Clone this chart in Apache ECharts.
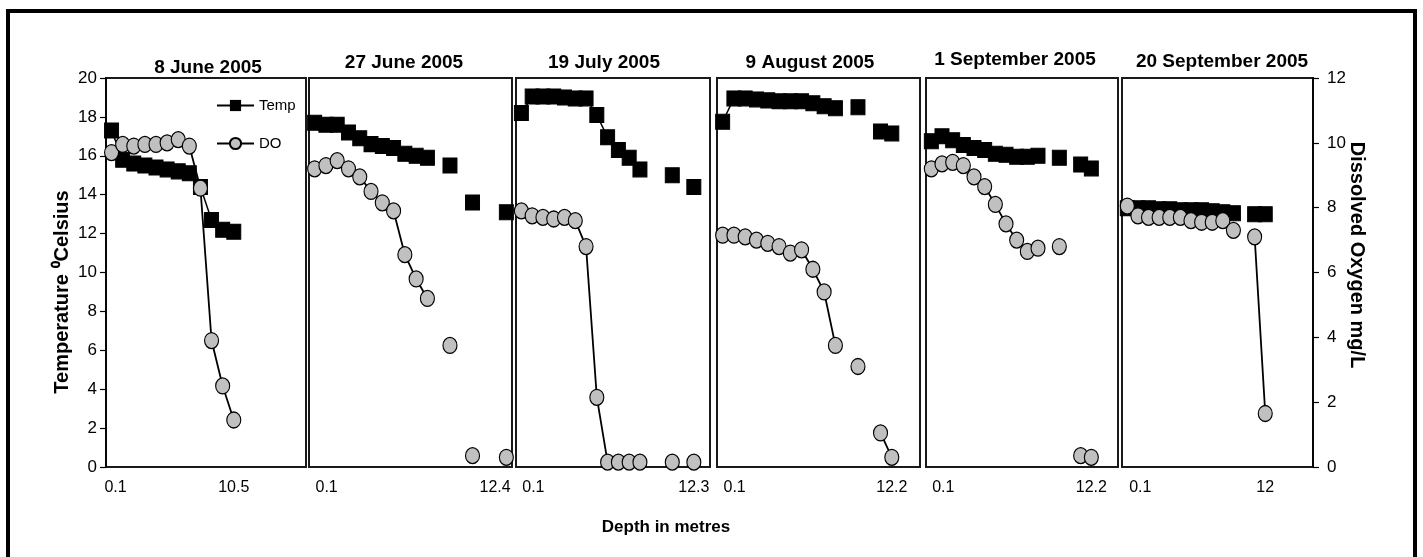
<!DOCTYPE html>
<html>
<head>
<meta charset="utf-8">
<script src="https://cdn.jsdelivr.net/npm/echarts@6/dist/echarts.min.js"></script>
<style>
  html, body { margin: 0; padding: 0; background: #fff; }
  #chart { width: 1423px; height: 557px; }
</style>
</head>
<body>
<div id="chart"></div>
<script>
// sampling dates, one panel each
const panelTitles = ['8 June 2005', '27 June 2005', '19 July 2005', '9 August 2005', '1 September 2005', '20 September 2005']

// depth tick labels: first and last label of each panel
const firstDepth = '0.1'
const lastDepth = ['10.5', '12.4', '12.3', '12.2', '12.2', '12']
const lastDepthIndex = [11, 16, 16, 15, 15, 13]
const categoryCount = 18

// temperature (deg C), null = no reading at that step
const temp1 = [17.3, 15.8, 15.6, 15.5, 15.4, 15.3, 15.2, 15.1, 14.4, 12.7, 12.2, 12.1]
const temp2 = [17.7, 17.6, 17.6, 17.2, 16.9, 16.6, 16.5, 16.4, 16.1, 16.0, 15.9, null, 15.5, null, 13.6, null, null, 13.1]
const temp3 = [18.2, 19.05, 19.05, 19.05, 19.0, 18.95, 18.95, 18.1, 16.95, 16.3, 15.9, 15.3, null, null, 15.0, null, 14.4]
const temp4 = [17.75, 18.95, 18.95, 18.9, 18.85, 18.8, 18.8, 18.8, 18.7, 18.55, 18.45, null, 18.5, null, 17.25, 17.15]
const temp5 = [16.75, 17.0, 16.8, 16.55, 16.4, 16.3, 16.1, 16.05, 15.95, 15.95, 16.0, null, 15.9, null, 15.55, 15.35]
const temp6 = [13.3, 13.3, 13.3, 13.25, 13.25, 13.2, 13.2, 13.2, 13.15, 13.1, 13.05, null, 13.0, 13.0]

// dissolved oxygen (mg/L)
const do1 = [9.7, 9.95, 9.9, 9.95, 9.95, 10.0, 10.1, 9.9, 8.6, 3.9, 2.5, 1.45]
const do2 = [9.2, 9.3, 9.45, 9.2, 8.95, 8.5, 8.15, 7.9, 6.55, 5.8, 5.2, null, 3.75, null, 0.35, null, null, 0.3]
const do3 = [7.9, 7.75, 7.7, 7.65, 7.7, 7.6, 6.8, 2.15, 0.15, 0.15, 0.15, 0.15, null, null, 0.15, null, 0.15]
const do4 = [7.15, 7.15, 7.1, 7.0, 6.9, 6.8, 6.6, 6.7, 6.1, 5.4, 3.75, null, 3.1, null, 1.05, 0.3]
const do5 = [9.2, 9.35, 9.4, 9.3, 8.95, 8.65, 8.1, 7.5, 7.0, 6.65, 6.75, null, 6.8, null, 0.35, 0.3]
const do6 = [8.05, 7.75, 7.7, 7.7, 7.7, 7.7, 7.6, 7.55, 7.55, 7.6, 7.3, null, 7.1, 1.65]

const tempSeries = [temp1, temp2, temp3, temp4, temp5, temp6]
const doSeries = [do1, do2, do3, do4, do5, do6]

// layout of the six panels
const panelLeft = [106, 309, 516, 717, 926, 1122]
const panelWidth = [200, 203, 194, 203, 192, 191]
const panelTop = 78
const panelHeight = 389
const titlePos = [[208, 68], [404, 63], [604, 63], [810, 63], [1015, 60], [1222, 62]]
const firstLabelShift = [4, 12, 12, 12, 12, 13]

const FONT = 'Liberation Sans, Arial, sans-serif'

function depthCategories(i) {
  let arr = []
  for (let k = 0; k < categoryCount; k++) arr.push('')
  arr[0] = firstDepth
  arr[lastDepthIndex[i]] = lastDepth[i]
  return arr
}

let grid = [], xAxis = [], yAxis = [], series = [], graphic = []

for (let i = 0; i < 6; i++) {
  grid.push({
    left: panelLeft[i], top: panelTop, width: panelWidth[i], height: panelHeight,
    show: true, borderColor: '#1a1a1a', borderWidth: 2, backgroundColor: 'transparent'
  })
  xAxis.push({
    type: 'category', gridIndex: i, boundaryGap: true,
    data: depthCategories(i),
    axisLine: { show: false },
    axisTick: { show: false },
    splitLine: { show: false },
    axisLabel: {
      interval: 0, margin: 13, color: '#000', fontSize: 16, fontFamily: FONT,
      formatter: (v, idx) => idx === 0 ? '{first|' + v + '}' : v,
      rich: {
        first: { fontSize: 16, fontFamily: FONT, color: '#000', padding: [0, 0, 0, firstLabelShift[i] * 2] }
      }
    }
  })
  // temperature axis (left)
  let showTemp = i === 0
  yAxis.push({
    type: 'value', gridIndex: i, position: 'left', min: 0, max: 20, interval: 2,
    axisLine: { show: showTemp, lineStyle: { color: '#000', width: 1.5 } },
    axisTick: { show: showTemp, length: 6, lineStyle: { color: '#000', width: 1.2 } },
    axisLabel: { show: showTemp, margin: 9, color: '#000', fontSize: 17, fontFamily: FONT },
    splitLine: { show: false }
  })
  // oxygen axis (right)
  let showDo = i === 5
  yAxis.push({
    type: 'value', gridIndex: i, position: 'right', min: 0, max: 12, interval: 2,
    axisLine: { show: showDo, lineStyle: { color: '#000', width: 1.5 } },
    axisTick: { show: showDo, length: 6, lineStyle: { color: '#000', width: 1.2 } },
    axisLabel: { show: showDo, margin: 14, color: '#000', fontSize: 17, fontFamily: FONT },
    splitLine: { show: false }
  })
  series.push({
    name: 'Temp', type: 'line', xAxisIndex: i, yAxisIndex: i * 2,
    data: tempSeries[i],
    symbol: 'rect', symbolSize: [14, 15],
    itemStyle: { color: '#000', borderColor: '#000' },
    lineStyle: { color: '#000', width: 1.5 },
    connectNulls: false
  })
  series.push({
    name: 'DO', type: 'line', xAxisIndex: i, yAxisIndex: i * 2 + 1,
    data: doSeries[i],
    symbol: 'circle', symbolSize: [14, 16],
    itemStyle: { color: '#c0c0c0', borderColor: '#000', borderWidth: 1.2 },
    lineStyle: { color: '#000', width: 1.8 },
    connectNulls: false
  })
  graphic.push({
    type: 'text', x: titlePos[i][0], y: titlePos[i][1],
    style: {
      text: panelTitles[i], fontSize: 19, fontWeight: 'bold', fontFamily: FONT,
      fill: '#000', align: 'center', verticalAlign: 'middle'
    }
  })
}

// outer frame
graphic.push({
  type: 'rect', shape: { x: 8, y: 11, width: 1407, height: 600 },
  style: { fill: 'none', stroke: '#000', lineWidth: 4 }, z: 10
})
// axis titles
graphic.push({
  type: 'text', x: 62, y: 292, rotation: Math.PI / 2,
  style: { text: 'Temperature ⁰Celsius', fontSize: 20, fontWeight: 'bold', fontFamily: FONT, fill: '#000', align: 'center', verticalAlign: 'middle' }
})
graphic.push({
  type: 'text', x: 1357, y: 255, rotation: -Math.PI / 2,
  style: { text: 'Dissolved Oxygen mg/L', fontSize: 20, fontWeight: 'bold', fontFamily: FONT, fill: '#000', align: 'center', verticalAlign: 'middle' }
})
graphic.push({
  type: 'text', x: 666, y: 527,
  style: { text: 'Depth in metres', fontSize: 17, fontWeight: 'bold', fontFamily: FONT, fill: '#000', align: 'center', verticalAlign: 'middle' }
})

const myChart = echarts.init(document.getElementById('chart'))
myChart.setOption({
  animation: false,
  backgroundColor: '#fff',
  legend: {
    data: ['Temp', 'DO'],
    orient: 'vertical',
    left: 211, top: 93,
    itemWidth: 37, itemHeight: 14, itemGap: 23,
    textStyle: { color: '#000', fontSize: 15, fontFamily: FONT }
  },
  grid, xAxis, yAxis, series, graphic
})
</script>
</body>
</html>
